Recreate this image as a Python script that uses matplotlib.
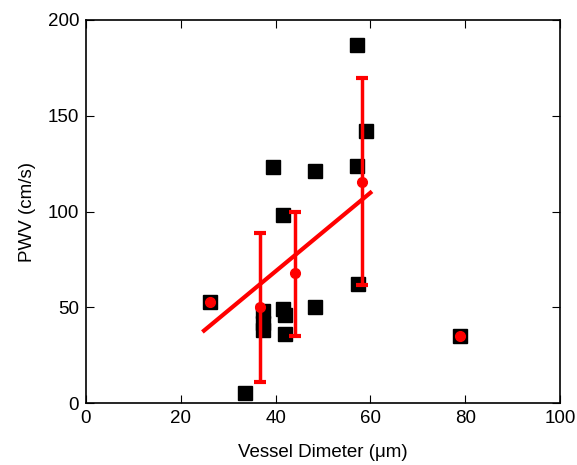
import matplotlib
matplotlib.use("Agg")
import matplotlib.pyplot as plt

plt.rcParams['font.family'] = ['Liberation Sans', 'DejaVu Sans']

# individual vessels
diam = [57.2, 59.1, 57.2, 39.5, 48.3, 41.6, 26.2, 41.5, 42.0, 42.0, 37.3, 37.3, 37.3, 48.3, 57.4, 33.5, 78.9]
pwv = [187, 142, 124, 123, 121, 98, 53, 49, 46, 36, 48, 42, 38, 50, 62, 5, 35]

# group means
mean_d = [26.2, 36.7, 44.0, 58.3, 78.9]
mean_p = [53, 50, 68, 115.5, 35]
err_lo = [0, 39, 33, 54, 0]
err_hi = [0, 39, 32, 54, 0]

# linear fit endpoints
fit_x = [24.9, 60.0]
fit_y = [37.8, 109.8]

fig = plt.figure(figsize=(5.77, 4.65), dpi=100)
ax = fig.add_axes([0.149, 0.1333, 0.8215, 0.8237])

ax.plot(diam, pwv, 's', color='black', markersize=10, zorder=2)
ax.plot(fit_x, fit_y, '-', color='red', lw=3, zorder=3)
ed, ep, elo, ehi = zip(*[(d, p, l, h) for d, p, l, h in zip(mean_d, mean_p, err_lo, err_hi) if l > 0])
ax.errorbar(ed, ep, yerr=[elo, ehi], fmt='none', ecolor='red', elinewidth=2.5,
            capsize=4.5, capthick=3, zorder=3)
ax.plot(mean_d, mean_p, 'o', color='red', markersize=7, zorder=4)

ax.set_xlim(0, 100)
ax.set_ylim(0, 200)
ax.set_xticks([0, 20, 40, 60, 80, 100])
ax.set_yticks([0, 50, 100, 150, 200])
ax.tick_params(direction='in', top=True, right=True, labelsize=13.5, length=6, pad=5)
for s in ax.spines.values():
    s.set_linewidth(1.2)
ax.set_xlabel('Vessel Dimeter (\u03bcm)', fontsize=13.5, labelpad=12)
ax.set_ylabel('PWV (cm/s)', fontsize=13.5, labelpad=8)

fig.savefig('out.png', dpi=100)
